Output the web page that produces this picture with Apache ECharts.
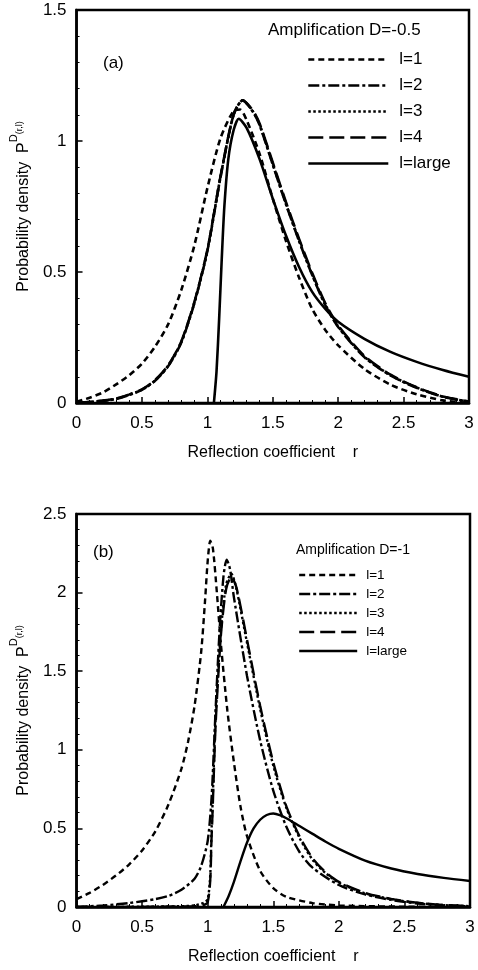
<!DOCTYPE html>
<html><head><meta charset="utf-8">
<script src="https://cdn.jsdelivr.net/npm/echarts@6/dist/echarts.min.js"></script>
<style>html,body{margin:0;padding:0;background:#fff}#c{width:478px;height:970px}</style>
</head><body><div id="c"></div>
<script>
// ---- data (r, P) ----
const xTicks = [0, 0.5, 1, 1.5, 2, 2.5, 3];
const yTicksA = [0, 0.5, 1, 1.5];
const yTicksB = [0, 0.5, 1, 1.5, 2, 2.5];
const legendNames = ['l=1', 'l=2', 'l=3', 'l=4', 'l=large'];

// Panel (a): Amplification D=-0.5
const a_l1 = [[0,0.005],[0.1,0.02],[0.2,0.04],[0.3,0.07],[0.4,0.105],[0.5,0.15],[0.6,0.215],[0.7,0.30],[0.8,0.43],[0.9,0.60],[1.0,0.82],[1.1,1.01],[1.2,1.115],[1.25,1.12],[1.3,1.08],[1.4,0.95],[1.5,0.78],[1.6,0.62],[1.7,0.48],[1.8,0.36],[1.9,0.28],[2.0,0.22],[2.2,0.13],[2.4,0.07],[2.6,0.033],[2.8,0.01],[3.0,0.0]];
const a_l2 = [[0,0],[0.2,0.008],[0.3,0.015],[0.4,0.03],[0.5,0.05],[0.6,0.085],[0.7,0.14],[0.8,0.23],[0.9,0.38],[1.0,0.58],[1.1,0.86],[1.2,1.10],[1.27,1.155],[1.35,1.11],[1.4,1.06],[1.5,0.91],[1.6,0.76],[1.7,0.62],[1.8,0.49],[1.9,0.375],[2.0,0.29],[2.2,0.175],[2.4,0.105],[2.6,0.058],[2.8,0.024],[3.0,0.005]];
const a_l3 = [[0,0],[0.2,0.008],[0.3,0.016],[0.4,0.031],[0.5,0.051],[0.6,0.086],[0.7,0.142],[0.8,0.232],[0.9,0.382],[1.0,0.582],[1.1,0.862],[1.2,1.10],[1.27,1.155],[1.35,1.112],[1.4,1.062],[1.5,0.912],[1.6,0.762],[1.7,0.622],[1.8,0.492],[1.9,0.377],[2.0,0.292],[2.2,0.177],[2.4,0.106],[2.6,0.059],[2.8,0.024],[3.0,0.005]];
const a_l4 = [[0,0],[0.2,0.009],[0.3,0.017],[0.4,0.032],[0.5,0.052],[0.6,0.087],[0.7,0.143],[0.8,0.234],[0.9,0.384],[1.0,0.584],[1.1,0.864],[1.2,1.10],[1.27,1.155],[1.35,1.115],[1.4,1.066],[1.5,0.918],[1.6,0.768],[1.7,0.628],[1.8,0.498],[1.9,0.382],[2.0,0.296],[2.2,0.18],[2.4,0.108],[2.6,0.06],[2.8,0.025],[3.0,0.006]];
const a_large = [[1.05,0],[1.07,0.12],[1.09,0.32],[1.11,0.55],[1.13,0.75],[1.16,0.93],[1.2,1.04],[1.24,1.085],[1.3,1.05],[1.4,0.93],[1.5,0.78],[1.6,0.64],[1.7,0.52],[1.8,0.425],[1.9,0.36],[2.0,0.31],[2.2,0.245],[2.4,0.195],[2.6,0.157],[2.8,0.126],[3.0,0.10]];

// Panel (b): Amplification D=-1
const b_l1 = [[0,0.05],[0.1,0.09],[0.2,0.14],[0.3,0.20],[0.4,0.27],[0.5,0.36],[0.6,0.48],[0.7,0.65],[0.8,0.88],[0.85,1.05],[0.9,1.28],[0.95,1.62],[0.98,1.95],[1.0,2.2],[1.02,2.33],[1.04,2.28],[1.07,2.0],[1.1,1.68],[1.15,1.25],[1.2,0.92],[1.25,0.64],[1.3,0.45],[1.4,0.23],[1.5,0.12],[1.6,0.065],[1.8,0.025],[2.0,0.01],[2.5,0.002],[3.0,0]];
const b_l2 = [[0,0],[0.2,0.01],[0.4,0.025],[0.6,0.05],[0.7,0.07],[0.8,0.11],[0.9,0.18],[0.95,0.26],[1.0,0.42],[1.03,0.70],[1.06,1.25],[1.09,1.75],[1.12,2.10],[1.145,2.21],[1.17,2.15],[1.2,1.97],[1.3,1.47],[1.4,1.06],[1.5,0.74],[1.6,0.51],[1.7,0.35],[1.8,0.25],[2.0,0.14],[2.2,0.08],[2.4,0.045],[2.6,0.022],[2.8,0.01],[3.0,0.005]];
const b_l3 = [[0,0],[0.5,0.002],[0.9,0.01],[1.0,0.05],[1.03,0.5],[1.06,1.2],[1.1,1.75],[1.14,2.05],[1.18,2.12],[1.22,2.02],[1.3,1.68],[1.4,1.26],[1.5,0.90],[1.6,0.63],[1.7,0.44],[1.8,0.30],[1.9,0.215],[2.0,0.155],[2.2,0.087],[2.4,0.05],[2.6,0.026],[2.8,0.012],[3.0,0.005]];
const b_l4 = [[0,0],[0.9,0.005],[1.0,0.03],[1.03,0.45],[1.06,1.15],[1.1,1.72],[1.14,2.02],[1.18,2.10],[1.22,2.03],[1.3,1.70],[1.4,1.28],[1.5,0.92],[1.6,0.64],[1.7,0.45],[1.8,0.31],[1.9,0.22],[2.0,0.16],[2.2,0.09],[2.4,0.052],[2.6,0.027],[2.8,0.013],[3.0,0.006]];
const b_large = [[1.12,0],[1.16,0.07],[1.2,0.16],[1.25,0.29],[1.3,0.41],[1.35,0.50],[1.4,0.555],[1.45,0.585],[1.5,0.595],[1.55,0.585],[1.6,0.565],[1.7,0.515],[1.8,0.465],[1.9,0.415],[2.0,0.37],[2.2,0.295],[2.4,0.245],[2.6,0.21],[2.8,0.185],[3.0,0.165]];

const FONT = '"Liberation Sans", Arial, Helvetica, sans-serif';
const dashes = { 'l=1': [6,4], 'l=2': [11,3,3,3], 'l=3': [2.5,2.5], 'l=4': [15,6], 'l=large': 'solid' };

function mkSeries(prefix, idx, lists, width) {
  return legendNames.map((n, i) => ({
    name: prefix + n,
    type: 'line',
    xAxisIndex: idx, yAxisIndex: idx,
    data: lists[i],
    smooth: 0.25,
    symbol: 'none',
    showSymbol: false,
    silent: true,
    animation: false,
    itemStyle: { color: '#000', opacity: 0 },
    lineStyle: { color: '#000', width: width, type: dashes[n], opacity: 1 },
    z: 3 + (4 - i)
  }));
}

function xAxis(idx) {
  return {
    gridIndex: idx, type: 'value', min: 0, max: 3, interval: 0.5,
    name: 'Reflection coefficient    r', nameLocation: 'middle', nameGap: 42,
    nameTextStyle: { fontSize: 16, color: '#000', fontFamily: FONT },
    axisLine: { lineStyle: { color: '#000', width: 2.5 } },
    axisTick: { inside: true, length: 6, lineStyle: { color: '#000', width: 1.5 } },
    minorTick: { show: true, splitNumber: 5, length: 3, lineStyle: { color: '#000', width: 1 } },
    axisLabel: { fontSize: 17, color: '#000', fontFamily: FONT, margin: 12, formatter: v => String(v) },
    splitLine: { show: false }
  };
}
function yAxis(idx, max) {
  return {
    gridIndex: idx, type: 'value', min: 0, max: max, interval: 0.5,
    name: '{n|Probability density  P}{sup|D}{sub|(r,l)}',
    nameLocation: 'middle', nameGap: 36, nameRotate: 90,
    nameTextStyle: { color: '#000', fontFamily: FONT,
      rich: {
        n: { fontSize: 16, fontFamily: FONT, color: '#000', verticalAlign: 'bottom', lineHeight: 24 },
        sup: { fontSize: 11, fontFamily: FONT, color: '#000', verticalAlign: 'top', lineHeight: 24 },
        sub: { fontSize: 9, fontFamily: FONT, color: '#000', verticalAlign: 'middle', lineHeight: 24 }
      } },
    axisLine: { lineStyle: { color: '#000', width: 2.5 } },
    axisTick: { inside: true, length: 6, lineStyle: { color: '#000', width: 1.5 } },
    minorTick: { show: true, splitNumber: 5, length: 3, lineStyle: { color: '#000', width: 1 } },
    axisLabel: { fontSize: 17, color: '#000', fontFamily: FONT, margin: 10, formatter: v => String(v) },
    splitLine: { show: false }
  };
}

const chart = echarts.init(document.getElementById('c'), null, { renderer: 'canvas' });
chart.setOption({
  animation: false,
  backgroundColor: '#fff',
  grid: [
    { left: 73, top: 10, width: 396, height: 393, show: true, borderColor: '#000', borderWidth: 2.5, backgroundColor: 'transparent' },
    { left: 73, top: 514, width: 397, height: 393, show: true, borderColor: '#000', borderWidth: 2.5, backgroundColor: 'transparent' }
  ],
  xAxis: [xAxis(0), xAxis(1)],
  yAxis: [yAxis(0, 1.5), yAxis(1, 2.5)],
  legend: [
    { orient: 'vertical', left: 302, top: 46, itemWidth: 80, itemHeight: 14, itemGap: 9, selectedMode: false,
      itemStyle: { opacity: 0, borderWidth: 0 },
      lineStyle: { width: 2.6 },
      data: legendNames.map(n => 'a:' + n), formatter: n => n.split(':')[1],
      textStyle: { fontSize: 17, color: '#000', fontFamily: FONT, padding: [0,0,0,6] } },
    { orient: 'vertical', left: 293, top: 563, itemWidth: 58, itemHeight: 12, itemGap: 5, selectedMode: false,
      itemStyle: { opacity: 0, borderWidth: 0 },
      lineStyle: { width: 2.4 },
      data: legendNames.map(n => 'b:' + n), formatter: n => n.split(':')[1],
      textStyle: { fontSize: 13.5, color: '#000', fontFamily: FONT, padding: [0,0,0,4] } }
  ],
  graphic: [
    { type: 'text', x: 268, y: 30, style: { text: 'Amplification D=-0.5', font: '17px ' + FONT, fill: '#000', verticalAlign: 'middle' } },
    { type: 'text', x: 103, y: 63, style: { text: '(a)', font: '17px ' + FONT, fill: '#000', verticalAlign: 'middle' } },
    { type: 'text', x: 296, y: 550, style: { text: 'Amplification D=-1', font: '14px ' + FONT, fill: '#000', verticalAlign: 'middle' } },
    { type: 'text', x: 93, y: 552, style: { text: '(b)', font: '17px ' + FONT, fill: '#000', verticalAlign: 'middle' } }
  ],
  series: [
    ...mkSeries('a:', 0, [a_l1, a_l2, a_l3, a_l4, a_large], 2.6),
    ...mkSeries('b:', 1, [b_l1, b_l2, b_l3, b_l4, b_large], 2.4)
  ]
});
</script></body></html>
